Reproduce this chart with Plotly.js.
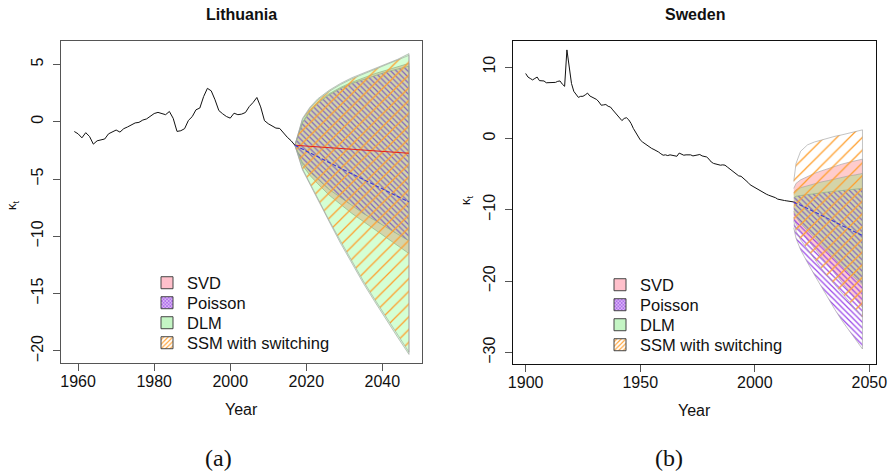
<!DOCTYPE html>
<html>
<head>
<meta charset="utf-8">
<script src="https://cdn.plot.ly/plotly-3.0.1.min.js"></script>
<style>
  html, body { margin: 0; padding: 0; background: #fff; }
  #chart { width: 892px; height: 475px; }
</style>
</head>
<body>
<div id="chart"></div>
<script>
// ---------- Lithuania: observed kappa_t ----------
const ltStartYear = 1959;
const ltKappa = [
  -0.85, -1.05, -1.40, -0.95, -1.28, -1.95, -1.66, -1.57, -1.50, -1.05,
  -0.85, -0.72, -0.90, -0.60, -0.45, -0.30, -0.10, -0.05, 0.15, 0.25,
  0.45, 0.72, 0.82, 0.70, 0.62, 0.90, 0.30, -0.84, -0.78, -0.60,
  0.12, 0.45, 1.05, 1.20, 2.20, 2.92, 2.70, 1.92, 0.98, 0.70,
  0.46, 0.32, 0.75, 0.62, 0.67, 0.81, 1.33, 1.68, 2.12, 1.30,
  0.10, -0.17, -0.35, -0.55, -0.58, -0.99, -1.35, -1.65, -2.05
];

// ---------- Lithuania: forecast intervals ----------
const ltFcYears = [2017, 2019, 2021, 2023, 2026, 2029, 2032, 2035, 2038, 2041, 2044, 2047];
const ltSvdUpper = [-2.05, 0.0, 1.0, 1.7, 2.45, 3.0, 3.45, 3.85, 4.2, 4.5, 4.8, 5.1];
const ltSvdLower = [-2.05, -3.8, -4.7, -5.4, -6.4, -7.2, -8.0, -8.7, -9.4, -10.1, -10.8, -11.5];
const ltPoisUpper = [-2.05, -0.1, 0.9, 1.6, 2.35, 2.9, 3.35, 3.7, 4.05, 4.35, 4.6, 4.85];
const ltPoisLower = [-2.05, -3.6, -4.4, -5.0, -5.9, -6.6, -7.3, -8.0, -8.6, -9.2, -9.8, -10.4];
const ltDlmUpper = [-2.05, 0.3, 1.3, 2.0, 2.75, 3.35, 3.85, 4.25, 4.65, 5.05, 5.45, 5.95];
const ltDlmLower = [-2.05, -4.2, -5.6, -6.8, -8.7, -10.6, -12.4, -14.1, -15.7, -17.3, -18.8, -20.3];
const ltSsmUpper = [-2.05, 0.2, 1.2, 1.9, 2.65, 3.25, 3.75, 4.15, 4.55, 4.95, 5.35, 5.8];
const ltSsmLower = [-2.05, -4.1, -5.5, -6.7, -8.6, -10.4, -12.2, -13.9, -15.5, -17.1, -18.6, -20.1];
const ltRedLine = [-2.05, -2.1, -2.15, -2.2, -2.27, -2.34, -2.41, -2.48, -2.55, -2.62, -2.69, -2.75];
const ltBlueLine = [-2.05, -2.4, -2.7, -3.05, -3.55, -4.05, -4.55, -5.05, -5.55, -6.05, -6.55, -7.0];

// ---------- Sweden: observed kappa_t ----------
const seStartYear = 1900;
const seKappa = [
  9.1, 8.6, 8.4, 8.2, 8.4, 8.6, 8.1, 8.1, 8.05, 7.8,
  7.8, 7.8, 7.8, 7.85, 8.0, 8.05, 7.6, 7.3, 12.4, 10.2,
  7.7, 6.6, 6.1, 5.75, 5.9, 5.9, 6.1, 6.35, 5.95, 5.8,
  5.6, 5.45, 5.1, 4.65, 4.7, 4.75, 4.5, 4.4, 4.0, 3.6,
  3.3, 2.8, 2.5, 2.8, 2.9, 2.6, 2.1, 1.4, 0.8, 0.2,
  -0.2, -0.5, -0.75, -0.95, -1.2, -1.4, -1.55, -1.7, -1.9, -2.15,
  -2.35, -2.3, -2.4, -2.3, -2.4, -2.45, -2.5, -2.05, -2.2, -2.35,
  -2.3, -2.25, -2.3, -2.45, -2.4, -2.3, -2.25, -2.45, -2.5, -2.6,
  -2.9, -3.3, -3.5, -3.6, -3.7, -3.75, -3.7, -3.75, -4.0, -4.25,
  -4.55, -4.8, -5.1, -5.25, -5.3, -5.55, -5.85, -6.15, -6.5, -6.7,
  -6.8, -7.05, -7.25, -7.45, -7.65, -7.8, -7.95, -8.05, -8.15, -8.3,
  -8.5, -8.6, -8.65, -8.7, -8.75, -8.8, -8.85, -8.9
];

// ---------- Sweden: forecast intervals ----------
const seFcYears = [2017, 2018, 2020, 2023, 2026, 2029, 2032, 2035, 2038, 2041, 2044, 2047];
const seSvdUpper = [-7.0, -6.3, -5.8, -5.3, -4.9, -4.55, -4.2, -3.9, -3.6, -3.35, -3.1, -2.9];
const seSvdLower = [-11.0, -12.0, -13.0, -14.2, -15.4, -16.6, -17.8, -19.0, -20.1, -21.3, -22.5, -23.7];
const sePoisUpper = [-8.3, -8.1, -8.0, -7.85, -7.7, -7.6, -7.5, -7.4, -7.3, -7.2, -7.1, -7.0];
const sePoisLower = [-12.5, -14.0, -15.6, -17.4, -19.1, -20.8, -22.4, -24.0, -25.5, -26.9, -28.2, -29.5];
const seDlmUpper = [-7.6, -7.2, -6.9, -6.6, -6.3, -6.1, -5.9, -5.65, -5.45, -5.25, -5.1, -4.9];
const seDlmLower = [-10.2, -11.0, -11.9, -12.9, -13.9, -14.9, -15.9, -16.9, -17.9, -18.8, -19.7, -20.5];
const seSsmUpper = [-6.0, -3.5, -1.8, -0.9, -0.5, -0.2, 0.05, 0.3, 0.5, 0.7, 0.95, 1.2];
const seSsmLower = [-11.5, -13.0, -14.2, -15.6, -16.9, -18.2, -19.4, -20.6, -21.7, -22.8, -23.9, -25.0];
const seRedYears = [2017, 2018];
const seRedLine = [-8.9, -9.05];
const seBlueLine = [-8.9, -9.1, -9.35, -9.8, -10.3, -10.75, -11.2, -11.7, -12.2, -12.65, -13.1, -13.6];

// ---------- axis ticks ----------
const ltXTicks = [1960, 1980, 2000, 2020, 2040];
const ltYTicks = [-20, -15, -10, -5, 0, 5];
const seXTicks = [1900, 1950, 2000, 2050];
const seYTicks = [-30, -20, -10, 0, 10];

const methodNames = ['SVD', 'Poisson', 'DLM', 'SSM with switching'];

// ---------- styling ----------
const FONT = 'Liberation Sans, Arial, sans-serif';
const SERIF = 'Liberation Serif, Times New Roman, serif';
const edge = { color: 'rgba(160,160,160,0.8)', width: 0.8 };
const orange = '#ff9f2e';
const purple = '#9a45e8';
const W = 892, H = 475;

function yearsFrom(start, n) {
  const out = [];
  for (let i = 0; i < n; i++) out.push(start + i);
  return out;
}

function band(years, upper, lower, ax, opts) {
  const xs = years.concat(years.slice().reverse());
  const ys = upper.concat(lower.slice().reverse());
  const t = {
    type: 'scatter', mode: 'lines', x: xs, y: ys,
    xaxis: ax[0], yaxis: ax[1],
    fill: 'toself', line: edge, hoverinfo: 'skip', showlegend: false
  };
  return Object.assign(t, opts);
}

const svdStyle = { fillcolor: 'rgba(255,0,0,0.2)' };
const dlmStyle = { fillcolor: 'rgba(0,255,0,0.17)' };
const poisStyle = {
  fillcolor: 'rgba(0,0,0,0)',
  fillpattern: { shape: '\\', fgcolor: purple, bgcolor: 'rgba(0,0,0,0)', size: 4, solidity: 0.3 }
};
const ssmStyle = {
  fillcolor: 'rgba(0,0,0,0)',
  fillpattern: { shape: '/', fgcolor: orange, bgcolor: 'rgba(0,0,0,0)', size: 9, solidity: 0.14 }
};

// Legend: every key row is its own small legend so the rows sit 20px apart.
const swatchStyles = [
  { color: '#ffc0cb' },
  { color: '#ffffff', pattern: { shape: 'x', fgcolor: purple, bgcolor: '#d9b8f5', size: 3, solidity: 0.4 } },
  { color: '#c4f5c4' },
  { color: '#ffffff', pattern: { shape: '/', fgcolor: orange, bgcolor: '#ffffff', size: 4, solidity: 0.35 } }
];
const legendLayouts = {};
let legendCount = 0;
function legendSwatches(ax, left, firstRow, rowGap) {
  return methodNames.map((name, i) => {
    legendCount += 1;
    const id = legendCount === 1 ? 'legend' : 'legend' + legendCount;
    legendLayouts[id] = {
      x: left / W, y: 1 - (firstRow + i * rowGap) / H, xanchor: 'left', yanchor: 'middle',
      bgcolor: 'rgba(0,0,0,0)', borderwidth: 0,
      font: { family: FONT, size: 16.5, color: '#111' }
    };
    return {
      type: 'bar', name: name, x: [null], y: [null],
      xaxis: ax[0], yaxis: ax[1], legend: id,
      marker: Object.assign({ line: { color: '#444', width: 1 } }, swatchStyles[i]),
      hoverinfo: 'skip'
    };
  });
}

const L = ['x', 'y'];
const R = ['x2', 'y2'];

const traces = [
  // Lithuania
  band(ltFcYears, ltSvdUpper, ltSvdLower, L, svdStyle),
  band(ltFcYears, ltPoisUpper, ltPoisLower, L, poisStyle),
  band(ltFcYears, ltDlmUpper, ltDlmLower, L, dlmStyle),
  band(ltFcYears, ltSsmUpper, ltSsmLower, L, ssmStyle),
  { type: 'scatter', mode: 'lines', x: yearsFrom(ltStartYear, ltKappa.length), y: ltKappa,
    xaxis: 'x', yaxis: 'y', line: { color: '#111', width: 1 }, showlegend: false, hoverinfo: 'skip' },
  { type: 'scatter', mode: 'lines', x: ltFcYears, y: ltRedLine, xaxis: 'x', yaxis: 'y',
    line: { color: '#e8201a', width: 1.1 }, showlegend: false, hoverinfo: 'skip' },
  { type: 'scatter', mode: 'lines', x: ltFcYears, y: ltBlueLine, xaxis: 'x', yaxis: 'y',
    line: { color: '#3b3bd6', width: 1.1, dash: '4px,2px' }, showlegend: false, hoverinfo: 'skip' },
  // Sweden
  band(seFcYears, seSvdUpper, seSvdLower, R, svdStyle),
  band(seFcYears, sePoisUpper, sePoisLower, R, poisStyle),
  band(seFcYears, seDlmUpper, seDlmLower, R, dlmStyle),
  band(seFcYears, seSsmUpper, seSsmLower, R, ssmStyle),
  { type: 'scatter', mode: 'lines', x: yearsFrom(seStartYear, seKappa.length), y: seKappa,
    xaxis: 'x2', yaxis: 'y2', line: { color: '#111', width: 1 }, showlegend: false, hoverinfo: 'skip' },
  { type: 'scatter', mode: 'lines', x: seRedYears, y: seRedLine, xaxis: 'x2', yaxis: 'y2',
    line: { color: '#e8201a', width: 1.1 }, showlegend: false, hoverinfo: 'skip' },
  { type: 'scatter', mode: 'lines', x: seFcYears, y: seBlueLine, xaxis: 'x2', yaxis: 'y2',
    line: { color: '#3b3bd6', width: 1.1, dash: '4px,2px' }, showlegend: false, hoverinfo: 'skip' }
].concat(legendSwatches(L, 147, 283, 20), legendSwatches(R, 600, 285, 20));

function axisBase(color) {
  return {
    showgrid: false, zeroline: false, showline: true, mirror: true,
    linecolor: color, linewidth: 1, ticks: 'outside', ticklen: 7,
    tickcolor: '#555', tickwidth: 1, tickfont: { family: FONT, size: 16, color: '#111' },
    fixedrange: true
  };
}

function note(text, px, py, size, family, angle) {
  return {
    text: text, x: px / W, y: 1 - py / H, xref: 'paper', yref: 'paper',
    xanchor: 'center', yanchor: 'middle', showarrow: false, textangle: angle || 0,
    font: { family: family || FONT, size: size, color: '#111' }
  };
}

const layout = Object.assign({
  width: W, height: H,
  margin: { l: 0, r: 0, t: 0, b: 0 },
  paper_bgcolor: '#fff', plot_bgcolor: '#fff',
  showlegend: true,
  xaxis: Object.assign(axisBase('#555'), {
    domain: [61 / W, 422.3 / W], range: [1955.5, 2050.5],
    tickmode: 'array', tickvals: ltXTicks, anchor: 'y', ticklabelstandoff: -3
  }),
  yaxis: Object.assign(axisBase('#555'), {
    domain: [1 - 363 / H, 1 - 41 / H], range: [-21.05, 7.05],
    tickmode: 'array', tickvals: ltYTicks, tickangle: -90, anchor: 'x', ticklabelstandoff: 4
  }),
  xaxis2: Object.assign(axisBase('#111'), {
    domain: [513.3 / W, 876 / W], range: [1894.6, 2052.9],
    tickmode: 'array', tickvals: seXTicks, anchor: 'y2', ticklabelstandoff: -3
  }),
  yaxis2: Object.assign(axisBase('#111'), {
    domain: [1 - 364 / H, 1 - 41 / H], range: [-31.6, 13.65],
    tickmode: 'array', tickvals: seYTicks, tickangle: -90, anchor: 'x2', ticklabelstandoff: 4
  }),
  annotations: [
    note('<b>Lithuania</b>', 241.5, 15, 16),
    note('<b>Sweden</b>', 694.5, 15, 16),
    note('Year', 241.5, 409, 16),
    note('Year', 694.5, 410, 16),
    note('κ<sub>t</sub>', 12, 205, 13, FONT, -90),
    note('κ<sub>t</sub>', 466, 200, 13, FONT, -90),
    note('(a)', 218, 458, 24, SERIF),
    note('(b)', 669, 458, 24, SERIF)
  ]
}, legendLayouts);

Plotly.newPlot('chart', traces, layout, { staticPlot: true, displayModeBar: false });
</script>
</body>
</html>
